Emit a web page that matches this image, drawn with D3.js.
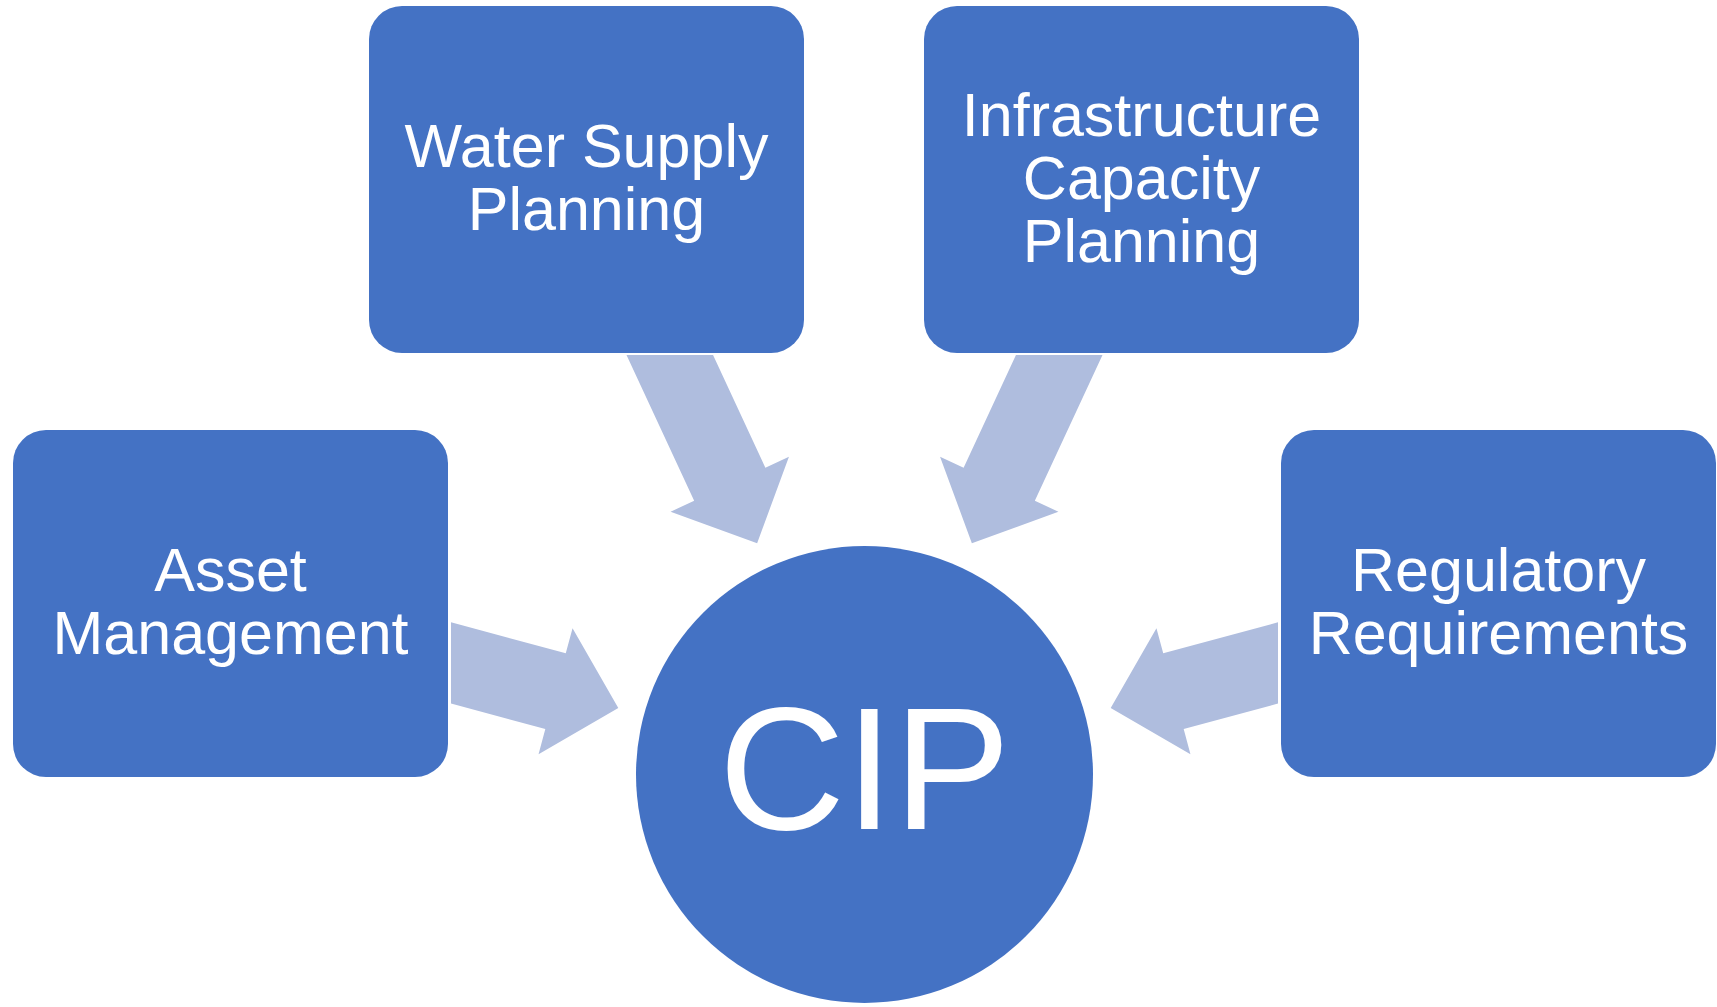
<!DOCTYPE html>
<html>
<head>
<meta charset="utf-8">
<script src="https://cdn.jsdelivr.net/npm/d3@7"></script>
<style>
  html, body { margin: 0; padding: 0; background: #fff; }
  svg { display: block; }
</style>
</head>
<body>
<svg id="chart" width="1717" height="1007"></svg>
<script>
(function () {
  "use strict";

  // diagram content
  const centerLabel = "CIP"
  const boxNames = ["Asset Management", "Water Supply Planning", "Infrastructure Capacity Planning", "Regulatory Requirements"]
  const boxLines = [
    ["Asset", "Management"],
    ["Water Supply", "Planning"],
    ["Infrastructure", "Capacity", "Planning"],
    ["Regulatory", "Requirements"]
  ]

  // layout
  const boxFill = "#4472C4"
  const arrowFill = "#AFBDDE"
  const font = "'Liberation Sans', Arial, sans-serif"
  const hub = { x: 864.5, y: 774.5, r: 228.5 }
  const boxW = 435, boxH = 347, boxR = 33
  const boxPos = [
    { x: 13, y: 430, clip: "x" },
    { x: 369, y: 6, clip: "y" },
    { x: 924, y: 6, clip: "y" },
    { x: 1281, y: 430, clip: "x" }
  ]
  const arrowAngle = [15.1, 65.1, 114.9, 164.9]
  const tipDist = 255, shaftW = 78.5, headW = 130.5, headL = 65

  let svg = d3.select("#chart")

  // arrows: tip points at hub centre, tail clipped just off the box edge
  function arrowPath(i) {
    let a = arrowAngle[i] * Math.PI / 180
    let ux = Math.cos(a), uy = Math.sin(a)   // direction toward the hub
    let px = -uy, py = ux                     // perpendicular
    let tip = [hub.x - ux * tipDist, hub.y - uy * tipDist]
    let base = [tip[0] - ux * headL, tip[1] - uy * headL]
    let b = boxPos[i]
    function back(off) {
      let sx = base[0] + px * off, sy = base[1] + py * off
      let t
      if (b.clip === "x") {
        let cx = b.x < hub.x ? b.x + boxW + 3 : b.x - 3
        t = (sx - cx) / ux
      } else {
        let cy = b.y + boxH + 2
        t = (sy - cy) / uy
      }
      return [sx - ux * t, sy - uy * t]
    }
    let p = d3.path()
    let s1 = back(shaftW / 2), s2 = back(-shaftW / 2)
    p.moveTo(s1[0], s1[1])
    p.lineTo(base[0] + px * shaftW / 2, base[1] + py * shaftW / 2)
    p.lineTo(base[0] + px * headW / 2, base[1] + py * headW / 2)
    p.lineTo(tip[0], tip[1])
    p.lineTo(base[0] - px * headW / 2, base[1] - py * headW / 2)
    p.lineTo(base[0] - px * shaftW / 2, base[1] - py * shaftW / 2)
    p.lineTo(s2[0], s2[1])
    p.closePath()
    return p.toString()
  }

  svg.append("g").selectAll("path")
    .data(boxNames)
    .join("path")
    .attr("d", (d, i) => arrowPath(i))
    .attr("fill", arrowFill)

  // boxes
  let boxes = svg.append("g").selectAll("g")
    .data(boxNames)
    .join("g")
    .attr("transform", (d, i) => `translate(${boxPos[i].x},${boxPos[i].y})`)

  boxes.append("rect")
    .attr("width", boxW)
    .attr("height", boxH)
    .attr("rx", boxR)
    .attr("fill", boxFill)

  const lineGap = 63
  boxes.each(function (d, i) {
    let lines = boxLines[i]
    let mid = boxH / 2 + 19 - (lines.length - 1) / 2 * lineGap
    d3.select(this).selectAll("text")
      .data(lines)
      .join("text")
      .attr("x", boxW / 2)
      .attr("y", (l, j) => mid + j * lineGap)
      .attr("text-anchor", "middle")
      .attr("font-family", font)
      .attr("font-size", 61)
      .attr("fill", "#fff")
      .text(l => l)
  })

  // hub
  svg.append("circle")
    .attr("cx", hub.x)
    .attr("cy", hub.y)
    .attr("r", hub.r)
    .attr("fill", boxFill)

  svg.append("text")
    .attr("x", hub.x)
    .attr("y", hub.y + 54)
    .attr("text-anchor", "middle")
    .attr("font-family", font)
    .attr("font-size", 175)
    .attr("fill", "#fff")
    .text(centerLabel)
})();
</script>
</body>
</html>
